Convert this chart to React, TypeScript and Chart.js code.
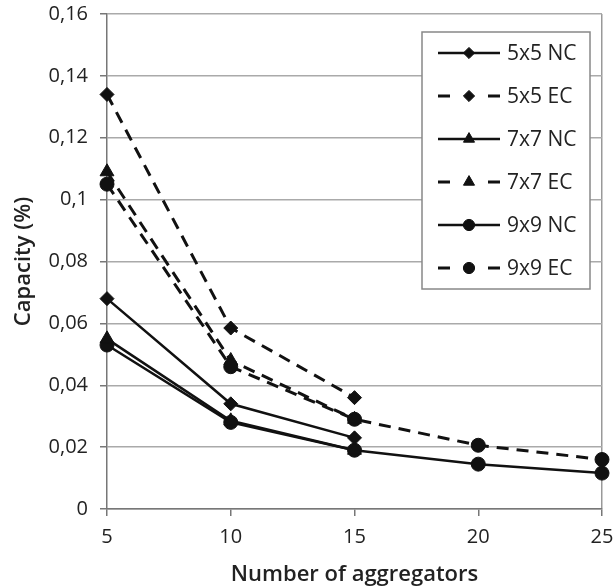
import React, { useEffect, useRef } from "react";
import { Chart, registerables } from "chart.js";
import { drawPoint } from "chart.js/helpers";

Chart.register(...registerables);

const aggregators = ["5", "10", "15", "20", "25"];
const nc5 = [0.068, 0.034, 0.023];
const ec5 = [0.134, 0.0585, 0.036];
const nc7 = [0.055, 0.0285, 0.019];
const ec7 = [0.109, 0.048, 0.029];
const nc9 = [0.053, 0.028, 0.019, 0.0145, 0.0116];
const ec9 = [0.105, 0.046, 0.029, 0.0206, 0.016];
const yTicks = [0, 0.02, 0.04, 0.06, 0.08, 0.1, 0.12, 0.14, 0.16];

const FONT = '"Open Sans", "Noto Sans", sans-serif';
const INK = "#111";

const legendBox = {
  id: "legendBox",
  afterDraw(chart: any) {
    const { ctx, chartArea } = chart;
    const w = 168;
    const h = 257;
    const x0 = chartArea.right - 12 - w;
    const y0 = chartArea.top + 18;
    ctx.save();
    ctx.fillStyle = "#fff";
    ctx.fillRect(x0, y0, w, h);
    ctx.strokeStyle = "#888";
    ctx.lineWidth = 1.5;
    ctx.setLineDash([]);
    ctx.strokeRect(x0, y0, w, h);
    chart.data.datasets.forEach((ds: any, i: number) => {
      const cy = y0 + 21 + i * 43;
      const lx1 = x0 + 16;
      const lx2 = x0 + 78;
      const cx = (lx1 + lx2) / 2;
      ctx.strokeStyle = ds.borderColor;
      ctx.lineWidth = ds.borderWidth;
      ctx.setLineDash([]);
      ctx.beginPath();
      if (ds.borderDash && ds.borderDash.length) {
        ctx.moveTo(lx1, cy);
        ctx.lineTo(lx1 + 12, cy);
        ctx.moveTo(lx2 - 12, cy);
        ctx.lineTo(lx2, cy);
      } else {
        ctx.moveTo(lx1, cy);
        ctx.lineTo(lx2, cy);
      }
      ctx.stroke();
      ctx.fillStyle = ds.pointBackgroundColor;
      ctx.strokeStyle = ds.pointBorderColor;
      ctx.lineWidth = 1;
      drawPoint(ctx, { pointStyle: ds.pointStyle, radius: ds.pointRadius * 0.8, rotation: 0, borderWidth: 1 }, cx, cy);
      ctx.fillStyle = "#222";
      ctx.font = `21px ${FONT}`;
      ctx.textBaseline = "middle";
      ctx.textAlign = "left";
      ctx.fillText(ds.label, x0 + 85, cy + 1);
    });
    ctx.restore();
  },
};

function mk(label: string, data: number[], style: string, dashed: boolean, r: number) {
  return {
    label,
    data,
    borderColor: INK,
    backgroundColor: INK,
    borderWidth: dashed ? 3 : 2.5,
    borderDash: dashed ? [12, 8] : [],
    pointStyle: style,
    pointRadius: r,
    pointBackgroundColor: INK,
    pointBorderColor: INK,
    pointBorderWidth: 1,
    tension: 0,
    fill: false,
  };
}

export default function App() {
  const ref = useRef<HTMLCanvasElement>(null);
  useEffect(() => {
    document.body.style.margin = "0";
    const chart = new Chart(ref.current!, {
      type: "line",
      data: {
        labels: aggregators,
        datasets: [
          mk("5x5 NC", nc5, "rectRot", false, 7),
          mk("5x5 EC", ec5, "rectRot", true, 7),
          mk("7x7 NC", nc7, "triangle", false, 8),
          mk("7x7 EC", ec7, "triangle", true, 8),
          mk("9x9 NC", nc9, "circle", false, 7),
          mk("9x9 EC", ec9, "circle", true, 7),
        ] as any,
      },
      options: {
        animation: false,
        responsive: false,
        events: [],
        layout: { padding: { left: 0, right: 11, top: 14, bottom: 0 } },
        plugins: { legend: { display: false }, tooltip: { enabled: false } },
        scales: {
          x: {
            type: "category",
            offset: false,
            afterFit: (s: any) => {
              s.height = 79;
              s.paddingLeft = 0;
              s.paddingRight = 0;
            },
            grid: {
              drawOnChartArea: true,
              color: (c: any) => (c.index === aggregators.length - 1 ? "#999" : "transparent"),
              lineWidth: 1.5,
              tickColor: "#777",
              tickLength: 7,
            },
            border: { display: true, color: "#777", width: 1.5 },
            ticks: { color: "#222", font: { family: FONT, size: 20 }, padding: 9, maxRotation: 0 },
            title: {
              display: true,
              text: "Number of aggregators",
              color: "#222",
              font: { family: FONT, size: 22, weight: "600" },
              padding: { top: 0, bottom: 0 },
            },
          },
          y: {
            type: "linear",
            min: 0,
            max: 0.16,
            afterFit: (s: any) => {
              s.width = 107;
              s.paddingTop = 0;
              s.paddingBottom = 0;
            },
            afterBuildTicks: (s: any) => {
              s.ticks = yTicks.map((v) => ({ value: v }));
            },
            grid: { color: "#aaa", lineWidth: 1.5, tickColor: "#777", tickLength: 7 },
            border: { display: true, color: "#777", width: 1.5 },
            ticks: {
              color: "#222",
              font: { family: FONT, size: 20 },
              padding: 12,
              callback: (v: any) => String(Math.round(Number(v) * 100) / 100).replace(".", ","),
            },
            title: {
              display: true,
              text: "Capacity (%)",
              color: "#222",
              font: { family: FONT, size: 22, weight: "600" },
              padding: { top: 11, bottom: 0 },
            },
          },
        },
      },
      plugins: [legendBox],
    });
    return () => chart.destroy();
  }, []);
  return (
    <div style={{ width: 613, height: 588 }}>
      <canvas ref={ref} width={613} height={588} style={{ display: "block" }} />
    </div>
  );
}
